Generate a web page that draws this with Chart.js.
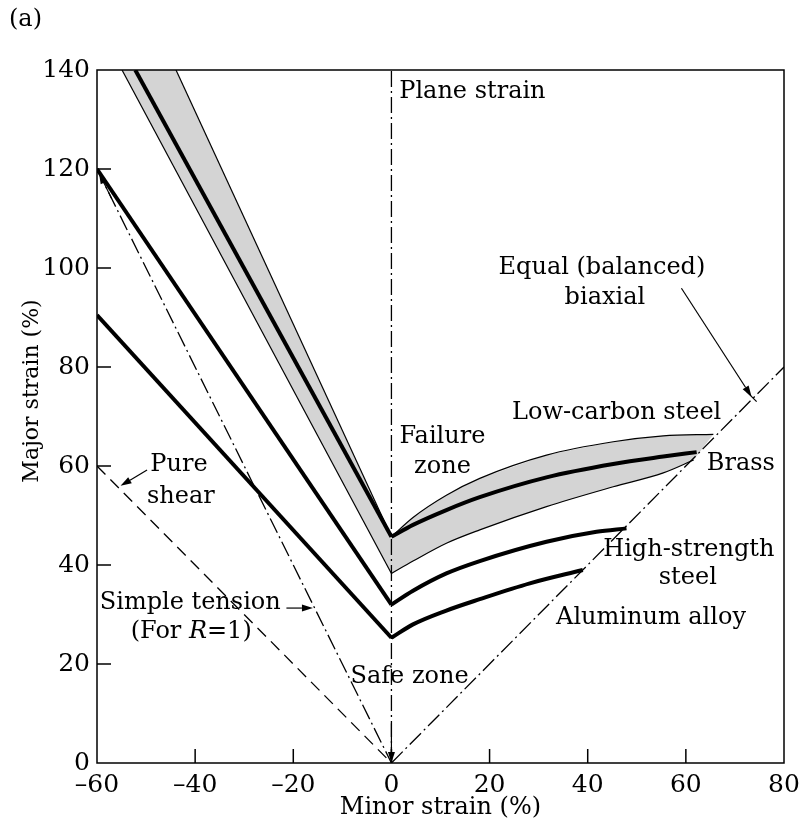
<!DOCTYPE html>
<html>
<head>
<meta charset="utf-8">
<script src="https://cdn.jsdelivr.net/npm/chart.js@4"></script>
<style>
  body { margin: 0; background: #fff; }
  #wrap { width: 800px; height: 822px; }
</style>
</head>
<body>
<div id="wrap"><canvas id="flc" width="800" height="822"></canvas></div>
<script>
// axes
const xTicks = [-60, -40, -20, 0, 20, 40, 60, 80];
const yTicks = [0, 20, 40, 60, 80, 100, 120, 140];

// forming limit curves (minor %, major %)
// first point = left branch end, second = vertex on plane strain, rest = right branch
const lowCarbonLowerX = [-54.9, 0, 4.4, 11.2, 18, 31.6, 45.2, 55.4, 61.6];
const lowCarbonLowerY = [140, 38.3, 40.8, 44.4, 47.1, 51.8, 55.8, 58.6, 61.2];
const lowCarbonUpperX = [-43.9, 0, 4.4, 11.2, 18, 31.6, 45.2, 55.4, 65.6];
const lowCarbonUpperY = [140, 45.7, 49.6, 54.1, 57.5, 62.2, 64.9, 66.1, 66.4];
const brassX = [-52.2, 0, 4.4, 11.2, 18, 31.6, 45.2, 55.4, 62.2];
const brassY = [140, 45.7, 48.1, 51.1, 53.7, 57.7, 60.4, 61.9, 62.8];
const highStrengthX = [-60, 0, 4.4, 11.2, 18, 31.6, 41.8, 47.9];
const highStrengthY = [120, 32, 34.8, 38.3, 40.8, 44.7, 46.7, 47.4];
const aluminumX = [-60, 0, 4.4, 11.2, 18, 28.2, 39];
const aluminumY = [90.5, 25.3, 28.0, 30.8, 33.1, 36.3, 39];

// strain paths
const planeStrainX = [0, 0];
const planeStrainY = [0, 140];
const simpleTensionX = [-60, 0];
const simpleTensionY = [120, 0];
const pureShearX = [-60, 0];
const pureShearY = [60, 0];
const biaxialX = [0, 80];
const biaxialY = [0, 80];

function pts(xs, ys) { return xs.map((x, i) => ({x: x, y: ys[i]})); }
const leftPart = (xs, ys) => pts(xs, ys).slice(0, 2);
const rightPart = (xs, ys) => pts(xs, ys).slice(1);

const bandPts = pts(lowCarbonLowerX, lowCarbonLowerY)
  .concat(pts(lowCarbonUpperX, lowCarbonUpperY).reverse());

const FONT = "'DejaVu Serif', 'Liberation Serif', serif";
const dashDot = [16, 4, 2, 4];

function lineSet(label, data, width, dash, curved) {
  return {
    label: label, data: data, borderColor: '#000', borderWidth: width,
    borderDash: dash || [], pointRadius: 0, fill: false, order: 1,
    tension: curved ? 0.4 : 0, cubicInterpolationMode: curved ? 'monotone' : 'default',
    borderCapStyle: 'butt', borderJoinStyle: 'miter'
  };
}

const notes = [
  {text: 'Plane strain', x: 1.6, y: 135.6, align: 'left'},
  {text: 'Equal (balanced)', x: 42.9, y: 100},
  {text: 'biaxial', x: 43.5, y: 93.9},
  {text: 'Low-carbon steel', x: 45.9, y: 70.7},
  {text: 'Failure', x: 10.4, y: 65.9},
  {text: 'zone', x: 10.4, y: 59.8},
  {text: 'Brass', x: 71.2, y: 60.4},
  {text: 'High-strength', x: 60.6, y: 43},
  {text: 'steel', x: 60.4, y: 37.4},
  {text: 'Aluminum alloy', x: 52.9, y: 29.3},
  {text: 'Safe zone', x: 3.7, y: 17.4},
  {text: 'Simple tension', x: -41, y: 32.3},
  {text: 'Pure', x: -43.3, y: 60.2},
  {text: 'shear', x: -42.9, y: 53.7}
];

// arrows: from (x1,y1) to head at (x2,y2), data units
const arrows = [
  [-49.8, 59.2, -55.2, 56.0],
  [-21.4, 31.3, -16.0, 31.3],
  [59.1, 95.9, 73.4, 74.0],
  [0, 8, 0, 0],
  [-57, 114, -59.6, 119.2]
];

function arrow(ctx, x1, y1, x2, y2) {
  const a = Math.atan2(y2 - y1, x2 - x1);
  const hl = 11, hw = 3.5;
  ctx.beginPath();
  ctx.moveTo(x1, y1);
  ctx.lineTo(x2 - hl * Math.cos(a), y2 - hl * Math.sin(a));
  ctx.stroke();
  ctx.beginPath();
  ctx.moveTo(x2, y2);
  ctx.lineTo(x2 - hl * Math.cos(a) + hw * Math.sin(a), y2 - hl * Math.sin(a) - hw * Math.cos(a));
  ctx.lineTo(x2 - hl * Math.cos(a) - hw * Math.sin(a), y2 - hl * Math.sin(a) + hw * Math.cos(a));
  ctx.closePath();
  ctx.fill();
}

const frameAndNotes = {
  id: 'frameAndNotes',
  afterDraw(chart) {
    const {ctx, chartArea: ca, scales: {x, y}} = chart;
    ctx.save();
    ctx.strokeStyle = '#000';
    ctx.fillStyle = '#000';
    ctx.lineWidth = 1.5;
    ctx.strokeRect(ca.left, ca.top, ca.right - ca.left, ca.bottom - ca.top);
    // inward tick marks
    xTicks.slice(1, -1).forEach(v => {
      const px = x.getPixelForValue(v);
      ctx.beginPath(); ctx.moveTo(px, ca.bottom); ctx.lineTo(px, ca.bottom - 14); ctx.stroke();
    });
    yTicks.slice(1, -1).forEach(v => {
      const py = y.getPixelForValue(v);
      ctx.beginPath(); ctx.moveTo(ca.left, py); ctx.lineTo(ca.left + 14, py); ctx.stroke();
    });

    ctx.lineWidth = 1.2;
    arrows.forEach(a => arrow(ctx, x.getPixelForValue(a[0]), y.getPixelForValue(a[1]),
                                   x.getPixelForValue(a[2]), y.getPixelForValue(a[3])));
    // short bar where the biaxial arrow meets its line
    const bx = x.getPixelForValue(73.4), by = y.getPixelForValue(74.0);
    ctx.beginPath(); ctx.moveTo(bx - 5, by - 5); ctx.lineTo(bx + 5, by + 5); ctx.stroke();

    ctx.font = '24px ' + FONT;
    ctx.textBaseline = 'middle';
    notes.forEach(n => {
      ctx.textAlign = n.align || 'center';
      ctx.fillText(n.text, x.getPixelForValue(n.x), y.getPixelForValue(n.y));
    });
    // (For R=1) with italic R
    const parts = [['(For ', '24px ' + FONT], ['R', 'italic 24px ' + FONT], ['=1)', '24px ' + FONT]];
    let total = 0;
    parts.forEach(p => { ctx.font = p[1]; total += ctx.measureText(p[0]).width; });
    let cx = x.getPixelForValue(-40.8) - total / 2;
    const cy = y.getPixelForValue(26.5);
    ctx.textAlign = 'left';
    parts.forEach(p => { ctx.font = p[1]; ctx.fillText(p[0], cx, cy); cx += ctx.measureText(p[0]).width; });

    ctx.font = '24px ' + FONT;
    ctx.fillText('(a)', 9, 20);

    // y axis title
    ctx.save();
    ctx.translate(32, 391);
    ctx.rotate(-Math.PI / 2);
    ctx.textAlign = 'center';
    ctx.font = '22px ' + FONT;
    ctx.fillText('Major strain (%)', 0, 0);
    ctx.restore();
    ctx.restore();
  }
};

new Chart(document.getElementById('flc'), {
  type: 'line',
  data: {
    datasets: [
      {
        label: 'Low-carbon steel band', data: bandPts, borderWidth: 0, borderColor: 'rgba(0,0,0,0)',
        backgroundColor: 'rgb(212,212,212)', fill: 'shape', pointRadius: 0, tension: 0, order: 10
      },
      lineSet('Low-carbon lower', leftPart(lowCarbonLowerX, lowCarbonLowerY), 1.2),
      lineSet('Low-carbon lower', rightPart(lowCarbonLowerX, lowCarbonLowerY), 1.2, null, true),
      lineSet('Low-carbon upper', leftPart(lowCarbonUpperX, lowCarbonUpperY), 1.2),
      lineSet('Low-carbon upper', rightPart(lowCarbonUpperX, lowCarbonUpperY), 1.2, null, true),
      lineSet('Brass', leftPart(brassX, brassY), 4),
      lineSet('Brass', rightPart(brassX, brassY), 4, null, true),
      lineSet('High-strength steel', leftPart(highStrengthX, highStrengthY), 4),
      lineSet('High-strength steel', rightPart(highStrengthX, highStrengthY), 4, null, true),
      lineSet('Aluminum alloy', leftPart(aluminumX, aluminumY), 4),
      lineSet('Aluminum alloy', rightPart(aluminumX, aluminumY), 4, null, true),
      lineSet('Plane strain', pts(planeStrainX, planeStrainY), 1.3, dashDot),
      lineSet('Simple tension', pts(simpleTensionX, simpleTensionY), 1.3, dashDot),
      lineSet('Pure shear', pts(pureShearX, pureShearY), 1.3, [12, 7]),
      lineSet('Equal biaxial', pts(biaxialX, biaxialY), 1.3, dashDot)
    ]
  },
  options: {
    responsive: false,
    animation: false,
    layout: { padding: { top: 70, right: 16, left: 0, bottom: 0 } },
    plugins: { legend: { display: false }, tooltip: { enabled: false } },
    scales: {
      x: {
        type: 'linear', min: -60, max: 80,
        afterBuildTicks: s => { s.ticks = xTicks.map(v => ({value: v})); },
        afterFit: s => { s.height = 59; s.paddingLeft = 0; s.paddingRight = 0; },
        grid: { display: false, drawTicks: false },
        border: { display: false },
        ticks: {
          color: '#000', padding: 7, maxRotation: 0,
          font: { family: FONT, size: 25 },
          callback: v => String(v).replace('-', '\u2013')
        },
        title: {
          display: true, text: 'Minor strain (%)', color: '#000',
          font: { family: FONT, size: 24 }, padding: { top: 0, bottom: 0 }
        }
      },
      y: {
        type: 'linear', min: 0, max: 140,
        afterBuildTicks: s => { s.ticks = yTicks.map(v => ({value: v})); },
        afterFit: s => { s.width = 97; s.paddingTop = 0; s.paddingBottom = 0; },
        grid: { display: false, drawTicks: false },
        border: { display: false },
        ticks: {
          color: '#000', padding: 7,
          font: { family: FONT, size: 25 }
        }
      }
    }
  },
  plugins: [frameAndNotes]
});
</script>
</body>
</html>
